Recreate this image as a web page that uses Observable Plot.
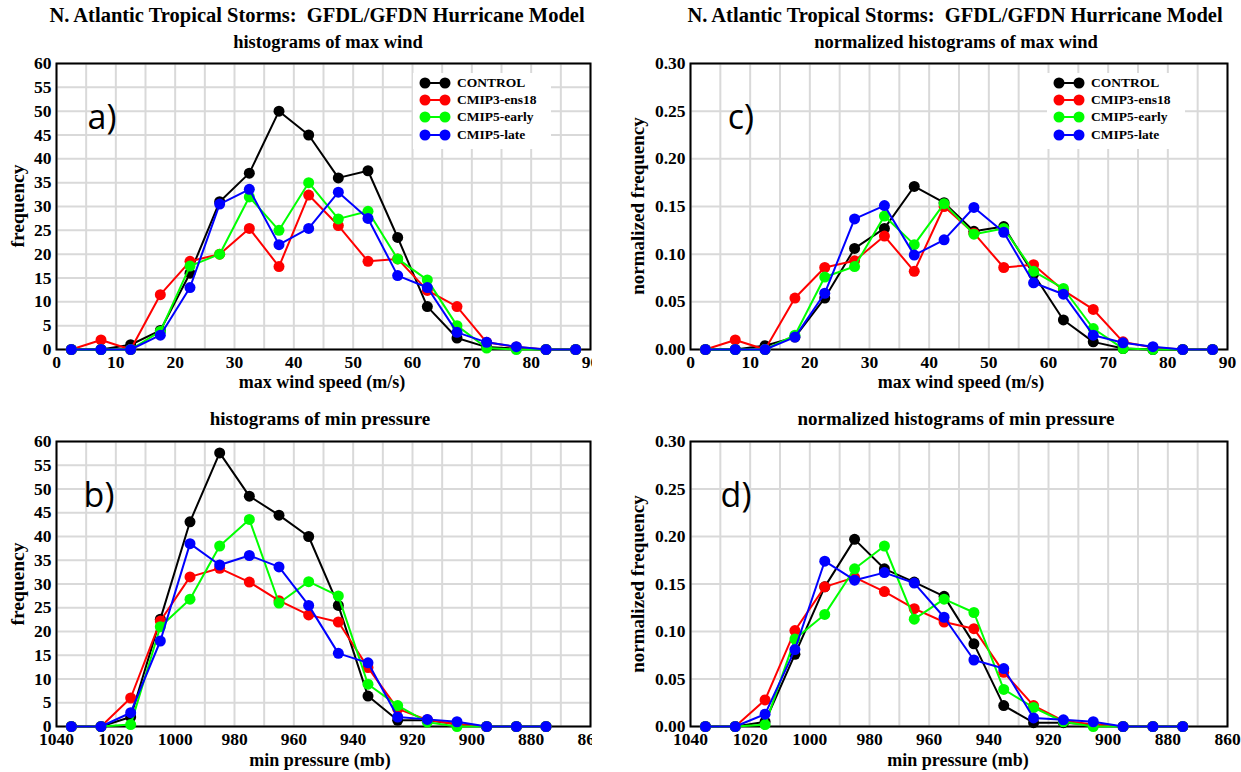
<!DOCTYPE html>
<html><head><meta charset="utf-8">
<script src="https://cdn.jsdelivr.net/npm/d3@7"></script>
<script src="https://cdn.jsdelivr.net/npm/@observablehq/plot@0.6"></script>
<style>
body{margin:0;background:#fff;}
#root{position:relative;width:1241px;height:772px;overflow:hidden;background:#fff;font-family:"Liberation Serif","Times New Roman",Times,serif;font-weight:bold;color:#000;}
.t{position:absolute;white-space:pre;transform:translate(-50%,-50%);line-height:1;}
.p{position:absolute;}
.lg{position:absolute;background:#fff;}
.lr{position:absolute;white-space:nowrap;font-size:13.5px;line-height:1;transform:translateY(-50%);}
svg text{font-family:"Liberation Serif","Times New Roman",Times,serif;}
</style></head><body><div id="root"></div>
<script>
// ---------- data ----------
const seriesNames = ["CONTROL", "CMIP3-ens18", "CMIP5-early", "CMIP5-late"];
const seriesColors = ["#000000", "#ff0000", "#00ff00", "#0000ff"];

const windBins = [2.5, 7.5, 12.5, 17.5, 22.5, 27.5, 32.5, 37.5, 42.5, 47.5, 52.5, 57.5, 62.5, 67.5, 72.5, 77.5, 82.5, 87.5];
const presBins = [1035, 1025, 1015, 1005, 995, 985, 975, 965, 955, 945, 935, 925, 915, 905, 895, 885, 875];

const windFreqControl = [0, 0, 1, 4, 16, 31, 37, 50, 45, 36, 37.5, 23.5, 9, 2.4, 0.5, 0.2, 0, 0];
const windFreqCMIP3   = [0, 2, 0, 11.5, 18.5, 20, 25.4, 17.4, 32.4, 26, 18.5, 19, 12.4, 9, 1.5, 0.5, 0, 0];
const windFreqEarly   = [0, 0, 0, 3.8, 17.5, 20, 32, 25, 35, 27.4, 29, 19, 14.6, 5, 0.3, 0, 0, 0];
const windFreqLate    = [0, 0, 0, 3, 13, 30.5, 33.6, 22, 25.4, 33, 27.5, 15.5, 13, 3.6, 1.5, 0.6, 0, 0];

const windNormControl = [0, 0, 0.004, 0.013, 0.054, 0.106, 0.127, 0.171, 0.154, 0.124, 0.129, 0.079, 0.031, 0.008, 0.001, 0, 0, 0];
const windNormCMIP3   = [0, 0.010, 0, 0.054, 0.086, 0.093, 0.119, 0.082, 0.150, 0.122, 0.086, 0.089, 0.062, 0.042, 0.008, 0.002, 0, 0];
const windNormEarly   = [0, 0, 0, 0.015, 0.076, 0.087, 0.140, 0.110, 0.153, 0.121, 0.127, 0.082, 0.064, 0.022, 0.001, 0, 0, 0];
const windNormLate    = [0, 0, 0, 0.013, 0.059, 0.137, 0.151, 0.099, 0.115, 0.149, 0.123, 0.070, 0.058, 0.015, 0.007, 0.003, 0, 0];

const presFreqControl = [0, 0, 2.0, 22.6, 43.1, 57.6, 48.5, 44.5, 40, 25.5, 6.4, 1.3, 1.3, 0.5, 0, 0, 0];
const presFreqCMIP3   = [0, 0, 6, 22.2, 31.5, 33.3, 30.4, 26.5, 23.5, 22, 12.4, 3.7, 1.4, 0.4, 0, 0, 0];
const presFreqEarly   = [0, 0, 0.4, 21, 26.8, 38, 43.6, 26, 30.5, 27.5, 8.9, 4.4, 0.9, 0, 0, 0, 0];
const presFreqLate    = [0, 0, 2.9, 18, 38.5, 34, 36, 33.6, 25.5, 15.4, 13.4, 2, 1.5, 1, 0, 0, 0];

const presNormControl = [0, 0, 0.005, 0.076, 0.147, 0.197, 0.166, 0.152, 0.137, 0.087, 0.022, 0.004, 0.004, 0.002, 0, 0, 0];
const presNormCMIP3   = [0, 0, 0.028, 0.101, 0.147, 0.157, 0.142, 0.124, 0.110, 0.103, 0.057, 0.022, 0.006, 0.002, 0, 0, 0];
const presNormEarly   = [0, 0, 0.002, 0.092, 0.118, 0.166, 0.190, 0.113, 0.134, 0.120, 0.039, 0.020, 0.005, 0, 0, 0, 0];
const presNormLate    = [0, 0, 0.013, 0.081, 0.174, 0.154, 0.162, 0.151, 0.115, 0.070, 0.061, 0.009, 0.007, 0.005, 0, 0, 0];

// tick labels and grid values
const windTicks = [0, 10, 20, 30, 40, 50, 60, 70, 80, 90];
const windGrid = [0, 5, 10, 15, 20, 25, 30, 35, 40, 45, 50, 55, 60, 65, 70, 75, 80, 85, 90];
const presTicks = [1040, 1020, 1000, 980, 960, 940, 920, 900, 880, 860];
const presGrid = [1040, 1030, 1020, 1010, 1000, 990, 980, 970, 960, 950, 940, 930, 920, 910, 900, 890, 880, 870, 860];
const freqTicks = [0, 5, 10, 15, 20, 25, 30, 35, 40, 45, 50, 55, 60];
const normTicks = [0, 0.05, 0.10, 0.15, 0.20, 0.25, 0.30];

const mainTitle = "N. Atlantic Tropical Storms:  GFDL/GFDN Hurricane Model";
const panelTitles = ["histograms of max wind", "normalized histograms of max wind", "histograms of min pressure", "normalized histograms of min pressure"];
const xLabels = ["max wind speed (m/s)", "min pressure (mb)"];
const yLabels = ["frequency", "normalized frequency"];
const panelLetters = ["a)", "c)", "b)", "d)"];

// ---------- layout ----------
const SERIF = "'Liberation Serif','Times New Roman',Times,serif";
const root = document.getElementById("root");
const panels = [
  {left: 0, top: 40, width: 592, height: 350, mL: 56, mR: 2, mT: 23, mB: 41, bins: windBins, xDomain: [0, 90], xTicks: windTicks, xGrid: windGrid, yDomain: [0, 60], yTicks: freqTicks, fmt: d3.format("d"),
   values: [windFreqControl, windFreqCMIP3, windFreqEarly, windFreqLate]},
  {left: 620, top: 40, width: 621, height: 350, mL: 70, mR: 14, mT: 23, mB: 41, bins: windBins, xDomain: [0, 90], xTicks: windTicks, xGrid: windGrid, yDomain: [0, 0.3], yTicks: normTicks, fmt: d3.format(".2f"),
   values: [windNormControl, windNormCMIP3, windNormEarly, windNormLate]},
  {left: 0, top: 420, width: 592, height: 335, mL: 56, mR: 2, mT: 21, mB: 29, bins: presBins, xDomain: [1040, 860], xTicks: presTicks, xGrid: presGrid, yDomain: [0, 60], yTicks: freqTicks, fmt: d3.format("d"),
   values: [presFreqControl, presFreqCMIP3, presFreqEarly, presFreqLate]},
  {left: 620, top: 420, width: 621, height: 335, mL: 70, mR: 14, mT: 21, mB: 29, bins: presBins, xDomain: [1040, 860], xTicks: presTicks, xGrid: presGrid, yDomain: [0, 0.3], yTicks: normTicks, fmt: d3.format(".2f"),
   values: [presNormControl, presNormCMIP3, presNormEarly, presNormLate]}
];

const gridStyle = {stroke: "#d9d9d9", strokeOpacity: 1, strokeWidth: 2};

panels.forEach(p => {
  const rows = seriesNames.flatMap((name, i) => p.bins.map((b, j) => ({x: b, y: p.values[i][j], s: name})));
  const marks = [
    Plot.gridX(p.xGrid, gridStyle),
    Plot.gridY(p.yTicks, gridStyle),
    Plot.axisX(p.xTicks, {tickSize: 0, tickPadding: 6, label: null, tickFormat: d3.format("d"), fontFamily: SERIF, fontWeight: "bold", fontSize: 17.5}),
    Plot.axisY(p.yTicks, {tickSize: 0, tickPadding: 5, label: null, tickFormat: p.fmt, fontFamily: SERIF, fontWeight: "bold", fontSize: 17.5}),
    Plot.frame({stroke: "#000", strokeWidth: 2})
  ];
  seriesNames.forEach(name => {
    const d = rows.filter(r => r.s === name);
    marks.push(Plot.line(d, {x: "x", y: "y", stroke: "s", strokeWidth: 2}));
    marks.push(Plot.dot(d, {x: "x", y: "y", fill: "s", r: 5.5}));
  });
  const svg = Plot.plot({
    width: p.width, height: p.height,
    marginLeft: p.mL, marginRight: p.mR, marginTop: p.mT, marginBottom: p.mB,
    x: {domain: p.xDomain},
    y: {domain: p.yDomain},
    color: {domain: seriesNames, range: seriesColors},
    style: {fontFamily: SERIF, fontSize: "17.5px", fontWeight: "bold", background: "transparent", color: "#000", overflow: "hidden"},
    marks
  });
  const div = document.createElement("div");
  div.className = "p";
  div.style.left = p.left + "px"; div.style.top = p.top + "px";
  div.style.width = p.width + "px"; div.style.height = p.height + "px";
  div.appendChild(svg);
  root.appendChild(div);
});

function txt(s, x, y, o = {}) {
  const d = document.createElement("div");
  d.className = "t";
  d.textContent = s;
  d.style.left = x + "px"; d.style.top = y + "px";
  d.style.fontSize = (o.size || 16) + "px";
  if (o.rot) d.style.transform = "translate(-50%,-50%) rotate(-90deg)";
  if (o.family) d.style.fontFamily = o.family;
  if (o.weight) d.style.fontWeight = o.weight;
  root.appendChild(d);
}

// titles
txt(mainTitle, 317, 15, {size: 20.5});
txt(mainTitle, 955, 15, {size: 20.5});
txt(panelTitles[0], 328, 42, {size: 18.5});
txt(panelTitles[1], 956, 42, {size: 18.5});
txt(panelTitles[2], 320, 418, {size: 19});
txt(panelTitles[3], 956, 418, {size: 19});
// axis labels
txt(xLabels[0], 322, 382, {size: 18});
txt(xLabels[0], 961, 382, {size: 18});
txt(xLabels[1], 320, 760, {size: 18});
txt(xLabels[1], 958, 760, {size: 18});
txt(yLabels[0], 18, 206, {size: 19.5, rot: true});
txt(yLabels[1], 637, 206, {size: 19, rot: true});
txt(yLabels[0], 18, 584, {size: 19.5, rot: true});
txt(yLabels[1], 637, 584, {size: 19, rot: true});
// panel letters
const letterPos = [[102, 116], [741, 116], [99, 494], [736, 494]];
panelLetters.forEach((l, i) => txt(l, letterPos[i][0], letterPos[i][1], {size: 34, family: "'Open Sans',sans-serif", weight: "normal"}));

// legends
function legend(x0, y0) {
  const box = document.createElement("div");
  box.className = "lg";
  box.style.left = x0 + "px"; box.style.top = y0 + "px";
  box.style.width = "138px"; box.style.height = "76px";
  root.appendChild(box);
  seriesNames.forEach((name, i) => {
    const cy = 10 + i * 17.2;
    const ns = "http://www.w3.org/2000/svg";
    const s = document.createElementNS(ns, "svg");
    s.setAttribute("width", 34); s.setAttribute("height", 14);
    s.style.position = "absolute"; s.style.left = "4px"; s.style.top = (cy - 7) + "px";
    const ln = document.createElementNS(ns, "line");
    ln.setAttribute("x1", 8); ln.setAttribute("x2", 28); ln.setAttribute("y1", 7); ln.setAttribute("y2", 7);
    ln.setAttribute("stroke", seriesColors[i]); ln.setAttribute("stroke-width", 2);
    s.appendChild(ln);
    [8, 28].forEach(cx => {
      const c = document.createElementNS(ns, "circle");
      c.setAttribute("cx", cx); c.setAttribute("cy", 7); c.setAttribute("r", 5.5);
      c.setAttribute("fill", seriesColors[i]);
      s.appendChild(c);
    });
    box.appendChild(s);
    const t = document.createElement("div");
    t.className = "lr";
    t.textContent = name;
    t.style.left = "44px"; t.style.top = cy + "px";
    box.appendChild(t);
  });
}
legend(413, 73);
legend(1047, 73);
</script></body></html>
